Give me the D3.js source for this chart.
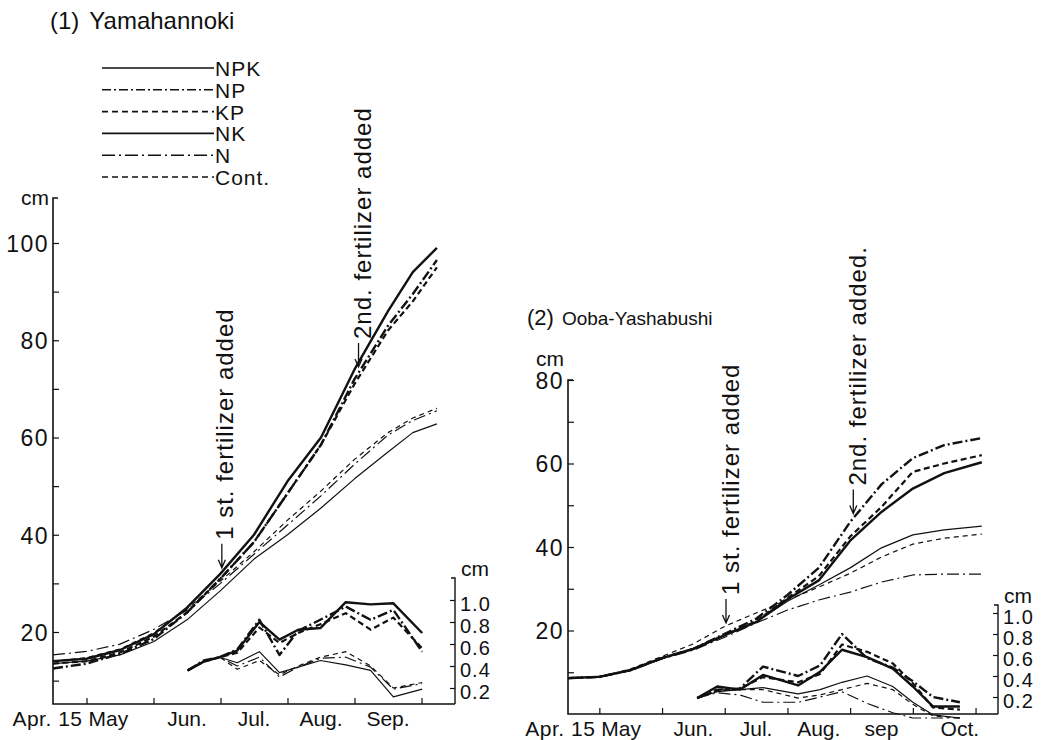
<!DOCTYPE html>
<html>
<head>
<meta charset="utf-8">
<title>Height growth - Yamahannoki / Ooba-Yashabushi</title>
<script src="https://cdn.jsdelivr.net/npm/d3@7"></script>
<style>
  body { margin: 0; background: #fff; }
  svg { font-family: "Liberation Sans", Arial, sans-serif; }
  text { fill: #111; }
</style>
</head>
<body>
<svg id="chart" width="1043" height="740"></svg>
<script>
// ---- data (months as numbers: 4.5 = Apr.15, 5 = May 1, ... ) ----
var seriesNames = ["NPK", "NP", "KP", "NK", "N", "Cont."];

// (1) Yamahannoki, height (cm)
var yamaMonths = [4.5, 5, 5.5, 6, 6.5, 7, 7.5, 8, 8.5, 9, 9.5, 9.87, 10.23];
var yamaNPK  = [14, 14.5, 16.3, 19.5, 25, 32, 40, 51, 60, 74, 86, 94, 99];
var yamaNP   = [12.5, 13.5, 15.5, 18.5, 24, 31, 38.5, 48.5, 58.5, 72, 83, 89.5, 96.5];
var yamaKP   = [13.5, 14, 15.8, 19, 24, 31, 38.5, 48.5, 58.5, 71, 82, 88, 95];
var yamaNK   = [13.5, 14, 15.3, 18, 22.5, 28.5, 35, 40, 45.5, 51.5, 57, 61, 62.8];
var yamaN    = [15.3, 16, 17.5, 20.5, 24.5, 30, 36, 42, 48, 54.5, 60.5, 63.5, 65.5];
var yamaCont = [14, 14.7, 16.5, 19.8, 24.8, 30.5, 36.5, 43, 49, 55.5, 61, 64, 66];

// (1) inset, growth per period (cm)
var yamaIncMonths = [6.51, 6.75, 6.99, 7.25, 7.58, 7.88, 8.16, 8.49, 8.87, 9.24, 9.58, 10.01];
var yamaIncNPK  = [0.36, 0.44, 0.48, 0.54, 0.80, 0.64, 0.73, 0.745, 0.98, 0.96, 0.97, 0.70];
var yamaIncNP   = [0.36, 0.45, 0.48, 0.55, 0.82, 0.50, 0.72, 0.82, 0.94, 0.82, 0.91, 0.53];
var yamaIncKP   = [0.36, 0.44, 0.48, 0.52, 0.75, 0.61, 0.70, 0.78, 0.88, 0.73, 0.84, 0.56];
var yamaIncNK   = [0.36, 0.44, 0.48, 0.43, 0.53, 0.34, 0.39, 0.45, 0.41, 0.36, 0.12, 0.19];
var yamaIncN    = [0.36, 0.44, 0.48, 0.40, 0.48, 0.30, 0.39, 0.47, 0.48, 0.39, 0.19, 0.24];
var yamaIncCont = [0.36, 0.44, 0.48, 0.37, 0.45, 0.32, 0.40, 0.48, 0.53, 0.40, 0.20, 0.25];

// (2) Ooba-Yashabushi, height (cm)
var oobaMonths = [4.5, 5, 5.5, 6, 6.5, 7, 7.5, 8, 8.5, 9, 9.5, 10, 10.5, 11.1];
var oobaNPK  = [8.6, 8.9, 10.5, 13.4, 15.6, 18.9, 22, 27.5, 32, 41.5, 48.4, 54, 57.7, 60.3];
var oobaNP   = [8.6, 8.9, 10.5, 13.4, 15.6, 19.2, 22.8, 28.5, 35, 46, 55, 61.3, 64.4, 66.1];
var oobaKP   = [8.6, 8.9, 10.5, 13.4, 15.6, 18.9, 22.2, 27.8, 33, 42.5, 49.6, 58, 60, 62];
var oobaNK   = [8.6, 8.9, 10.5, 13.4, 15.6, 18.9, 22, 27, 30.9, 35, 39.8, 42.9, 44.1, 45];
var oobaN    = [8.6, 8.9, 10.5, 13.2, 15.3, 18.4, 21.8, 24.9, 27.3, 29.2, 31.6, 33.3, 33.5, 33.5];
var oobaCont = [8.6, 8.9, 10.8, 13.8, 16.8, 21, 24.2, 27.3, 30.4, 33.7, 37.6, 40.7, 42.1, 43.1];

// (2) inset
var oobaIncMonths = [6.56, 6.88, 7.24, 7.61, 8.17, 8.52, 8.87, 9.27, 9.68, 10.0, 10.32, 10.75];
var oobaIncNPK  = [0.19, 0.30, 0.27, 0.41, 0.31, 0.44, 0.65, 0.58, 0.47, 0.30, 0.11, 0.11];
var oobaIncNP   = [0.19, 0.27, 0.28, 0.49, 0.40, 0.50, 0.80, 0.57, 0.48, 0.35, 0.20, 0.15];
var oobaIncKP   = [0.19, 0.26, 0.28, 0.39, 0.34, 0.42, 0.70, 0.63, 0.52, 0.33, 0.10, 0.08];
var oobaIncNK   = [0.19, 0.25, 0.27, 0.29, 0.23, 0.27, 0.34, 0.40, 0.30, 0.15, 0.03, 0.0];
var oobaIncN    = [0.19, 0.24, 0.22, 0.15, 0.15, 0.20, 0.25, 0.14, 0.05, 0.0, 0.0, 0.0];
var oobaIncCont = [0.19, 0.26, 0.27, 0.27, 0.19, 0.22, 0.27, 0.33, 0.27, 0.13, 0.02, 0.0];

// axis ticks and labels
var yamaTicks = [10, 20, 30, 40, 50, 60, 70, 80, 90, 100];
var oobaTicks = [10, 20, 30, 40, 50, 60, 70, 80];
var incTicks = [0.2, 0.4, 0.6, 0.8, 1.0];
var yamaMonthTicks = [5, 6, 7, 8, 9, 10];
var oobaMonthTicks = [5, 6, 7, 8, 9, 10, 11];
var yamaMonthLabels = ["Jun.", "Jul.", "Aug.", "Sep."];
var yamaMonthLabelPos = [6.5, 7.5, 8.5, 9.5];
var oobaMonthLabels = ["Jun.", "Jul.", "Aug.", "sep", "Oct."];
var oobaMonthLabelPos = [6.5, 7.5, 8.5, 9.5, 10.75];
// fertilizer dates [month, height pointed at]
var yamaFert = [[7.02, 33.2], [9.06, 74.5]];
var oobaFert = [[7.02, 21.8], [9.05, 48]];

// ---- styles ----
var styleOf = {
  "NPK":   { w: 2.4, dash: null },
  "NP":    { w: 2.4, dash: "10,3,2,3" },
  "KP":    { w: 2.2, dash: "6,3.5" },
  "NK":    { w: 1.2, dash: null },
  "N":     { w: 1.2, dash: "12,4,2,4" },
  "Cont.": { w: 1.2, dash: "5,4" }
};
var legendDash = { "NPK": null, "NP": "9,3,2,3", "KP": "6,4", "NK": null, "N": "13,4,2,4", "Cont.": "6,4" };

var svg = d3.select("#chart");
svg.append("rect").attr("width", 1043).attr("height", 740).attr("fill", "#fff");

function drawPanel(p) {
  var g = svg.append("g");
  var x = d3.scaleLinear().domain([4.5, 10.5]).range([p.x0, p.x0 + 6 * p.pxMonth]);
  var y = d3.scaleLinear().domain(p.yDom).range(p.yRng);
  var yi = d3.scaleLinear().domain([0.2, 1.0]).range(p.iRng);

  // left axis line with hook at top
  g.append("path").attr("d", "M" + (p.x0 + 5) + "," + p.top + "H" + p.x0 + "V" + p.base + "H" + p.xEnd)
    .attr("fill", "none").attr("stroke", "#111").attr("stroke-width", 1.6);
  // inset axis on the right
  g.append("path").attr("d", "M" + (p.xEnd - 4) + "," + p.iTop + "H" + p.xEnd + "V" + p.base)
    .attr("fill", "none").attr("stroke", "#111").attr("stroke-width", 1.4);

  // y ticks (inside)
  var ya = d3.axisLeft(y).tickValues(p.ticks).tickSizeInner(-6).tickSizeOuter(0).tickPadding(4)
    .tickFormat(function (d) { return d % 20 === 0 ? d : ""; });
  var yg = g.append("g").attr("transform", "translate(" + p.x0 + ",0)").call(ya);
  yg.select(".domain").remove();
  yg.selectAll("line").attr("stroke", "#111").attr("stroke-width", 1.2);
  yg.selectAll("text").attr("font-size", 23).attr("letter-spacing", 1.5).attr("fill", "#111")
    .attr("font-family", "Liberation Sans, Arial, sans-serif").attr("dy", "0.36em");
  g.append("text").attr("x", p.x0 - 4).attr("y", p.cmY).attr("text-anchor", "end")
    .attr("font-size", 21).text("cm");

  // x ticks
  var xa = d3.axisBottom(x).tickValues(p.mTicks).tickSizeInner(-6).tickSizeOuter(0).tickFormat("");
  var xg = g.append("g").attr("transform", "translate(0," + p.base + ")").call(xa);
  xg.select(".domain").remove();
  xg.selectAll("line").attr("stroke", "#111").attr("stroke-width", 1.2);

  // x labels
  g.append("text").attr("x", x(5) - 4).attr("y", p.base + 22).attr("text-anchor", "end")
    .attr("font-size", 21).attr("letter-spacing", 0.5).text("Apr. 15");
  g.append("text").attr("x", x(5) + 2).attr("y", p.base + 22).attr("font-size", 21).text("May");
  g.selectAll(".mlab").data(p.mLabels).enter().append("text")
    .attr("x", function (d, i) { return x(p.mLabelPos[i]); })
    .attr("y", p.base + 22).attr("text-anchor", "middle").attr("font-size", 21)
    .text(function (d) { return d; });

  // inset axis ticks and labels
  var ia = d3.axisRight(yi).tickValues(incTicks).tickSizeInner(-5).tickSizeOuter(0).tickPadding(5)
    .tickFormat(d3.format(".1f"));
  var ig = g.append("g").attr("transform", "translate(" + p.xEnd + ",0)").call(ia);
  ig.select(".domain").remove();
  ig.selectAll("line").attr("stroke", "#111").attr("stroke-width", 1.2);
  ig.selectAll("text").attr("font-size", 20).attr("letter-spacing", 1).attr("fill", "#111")
    .attr("font-family", "Liberation Sans, Arial, sans-serif").attr("dy", "0.5em");
  g.append("text").attr("x", p.xEnd + 6).attr("y", p.iTop - 2).attr("font-size", 21).text("cm");

  // curves
  var line = d3.line().x(function (d) { return x(d[0]); }).y(function (d) { return y(d[1]); });
  var iline = d3.line().x(function (d) { return x(d[0]); }).y(function (d) { return yi(d[1]); });
  var order = [3, 4, 5, 0, 1, 2];
  order.forEach(function (k) {
    var name = seriesNames[k], st = styleOf[name];
    g.append("path").datum(p.months.map(function (m, i) { return [m, p.main[k][i]]; }))
      .attr("d", line).attr("fill", "none").attr("stroke", "#111")
      .attr("stroke-width", st.w).attr("stroke-dasharray", st.dash).attr("stroke-linejoin", "round");
    g.append("path").datum(p.incMonths.map(function (m, i) { return [m, p.inc[k][i]]; }))
      .attr("d", iline).attr("fill", "none").attr("stroke", "#111")
      .attr("stroke-width", st.w).attr("stroke-dasharray", st.dash).attr("stroke-linejoin", "round");
  });

  // fertilizer annotations
  p.fert.forEach(function (f, i) {
    var ax = x(f[0]), tip = y(f[1]), topA = tip - 24;
    g.append("path")
      .attr("d", "M" + ax + "," + topA + "V" + tip + "M" + (ax - 3.5) + "," + (tip - 8) + "L" + ax + "," + tip + "L" + (ax + 3.5) + "," + (tip - 8))
      .attr("fill", "none").attr("stroke", "#111").attr("stroke-width", 1.3);
    g.append("text").attr("transform", "translate(" + (ax + p.textOff[i]) + "," + (topA - 4) + ") rotate(-90)")
      .attr("font-size", 24).attr("letter-spacing", 1).text(p.fertText[i]);
  });
}

drawPanel({
  x0: 53, pxMonth: 67, xEnd: 455, top: 198, base: 704, cmY: 205,
  yDom: [20, 100], yRng: [632, 243], iRng: [688, 600], iTop: 578,
  ticks: yamaTicks, mTicks: yamaMonthTicks, mLabels: yamaMonthLabels, mLabelPos: yamaMonthLabelPos,
  months: yamaMonths, main: [yamaNPK, yamaNP, yamaKP, yamaNK, yamaN, yamaCont],
  incMonths: yamaIncMonths, inc: [yamaIncNPK, yamaIncNP, yamaIncKP, yamaIncNK, yamaIncN, yamaIncCont],
  fert: yamaFert, fertText: ["1 st. fertilizer added", "2nd. fertilizer added"], textOff: [11, 12]
});

drawPanel({
  x0: 568, pxMonth: 62.7, xEnd: 998, top: 380, base: 714, cmY: 366,
  yDom: [0, 80], yRng: [714, 380], iRng: [697, 613], iTop: 605,
  ticks: oobaTicks, mTicks: oobaMonthTicks, mLabels: oobaMonthLabels, mLabelPos: oobaMonthLabelPos,
  months: oobaMonths, main: [oobaNPK, oobaNP, oobaKP, oobaNK, oobaN, oobaCont],
  incMonths: oobaIncMonths, inc: [oobaIncNPK, oobaIncNP, oobaIncKP, oobaIncNK, oobaIncN, oobaIncCont],
  fert: oobaFert, fertText: ["1 st. fertilizer added", "2nd. fertilizer added."], textOff: [13, 13]
});

// titles
var t1 = svg.append("text").attr("x", 50).attr("y", 29).attr("font-size", 24);
t1.append("tspan").text("(1)");
t1.append("tspan").attr("dx", 10).text("Yamahannoki");
var t2 = svg.append("text").attr("x", 527).attr("y", 325);
t2.append("tspan").attr("font-size", 22).text("(2)");
t2.append("tspan").attr("dx", 8).attr("font-size", 19).text("Ooba-Yashabushi");

// legend
var leg = svg.append("g");
seriesNames.forEach(function (name, i) {
  var cy = 68 + i * 21.8;
  leg.append("line").attr("x1", 102).attr("x2", 214).attr("y1", cy).attr("y2", cy)
    .attr("stroke", "#111").attr("stroke-width", 1.6).attr("stroke-dasharray", legendDash[name]);
  leg.append("text").attr("x", 215).attr("y", cy + 8).attr("font-size", 21).attr("letter-spacing", 1).text(name);
});
</script>
</body>
</html>
